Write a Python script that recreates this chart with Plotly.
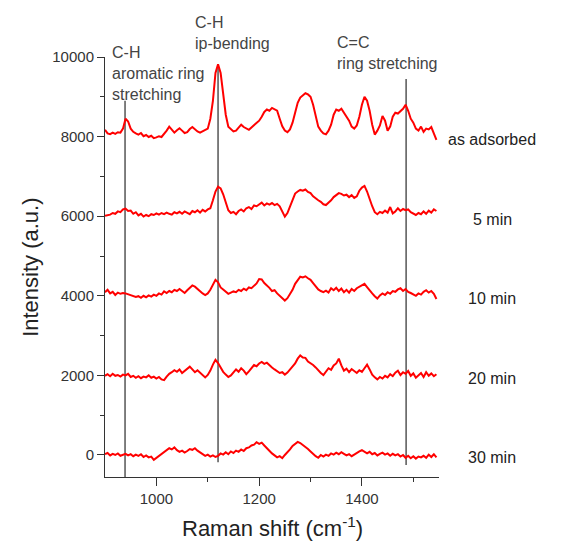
import numpy as np
import plotly.graph_objects as go

# Raman shift sampling grid (cm^-1)
shift = np.arange(900, 1550, 5)

as_adsorbed = [
    8170, 8080, 8060, 8100, 8070, 8110, 8100, 8200, 8450, 8380,
    8200, 8120, 8080, 8050, 8090, 8010, 8040, 7990, 8020, 7960,
    7980, 8010, 7990, 8060, 8150, 8250, 8170, 8100, 8160, 8210,
    8150, 8090, 8110, 8190, 8240, 8180, 8130, 8100, 8140, 8170,
    8200, 8450, 8900, 9600, 9820, 9600, 9050, 8550, 8250, 8180,
    8130, 8150, 8220, 8300, 8240, 8200, 8170, 8230, 8290, 8330,
    8400, 8500, 8620, 8680, 8650, 8720, 8690, 8650, 8450, 8260,
    8150, 8110, 8180, 8350, 8600, 8850, 8980, 9040, 9090, 9060,
    9000, 8800, 8500, 8250, 8150, 8080, 8060, 8150, 8300, 8550,
    8680, 8650, 8700, 8600, 8520, 8400, 8250, 8200, 8280, 8500,
    8800, 9000, 8900, 8650, 8300, 8050, 8150, 8280, 8520, 8400,
    8150, 8250, 8500, 8600, 8580, 8650, 8700, 8800, 8650, 8450,
    8350, 8200, 8150, 8250, 8120, 8200, 8180, 8240, 8100, 7920,
]

min5 = [
    6010, 6030, 6040, 6080, 6060, 6120, 6100, 6170, 6190, 6130,
    6140, 6060, 6100, 6020, 6060, 5990, 6030, 6000, 6050, 6030,
    6070, 6040, 6080, 6050, 6090, 6060, 6040, 6100, 6070, 6110,
    6060, 6120, 6080, 6050, 6130, 6100, 6150, 6090, 6160, 6120,
    6170, 6200, 6400, 6620, 6740, 6700, 6550, 6330, 6150, 6080,
    6110, 6050, 6130, 6170, 6120, 6200, 6230, 6180, 6270, 6250,
    6300, 6340, 6270, 6320, 6290, 6330, 6280, 6310, 6250, 6100,
    5990, 6080, 6250, 6450, 6570, 6620, 6660, 6640, 6670, 6610,
    6580, 6500, 6440, 6400, 6360, 6300, 6280, 6330, 6400, 6480,
    6540, 6580, 6560, 6520, 6540, 6480, 6530, 6460, 6500, 6640,
    6720, 6760, 6620, 6420, 6250, 6100, 6050, 6110, 6080, 6140,
    6090, 6230, 6070, 6120, 6200, 6130, 6180, 6150, 6170, 6100,
    6060, 6030, 6080, 6050, 6120, 6060, 6140, 6090, 6170, 6130,
]

min10 = [
    4090, 4150, 4060, 4100, 4020, 4080, 4050, 4070, 4060, 4040,
    4020, 4000, 3970, 3990, 3950, 4000, 3960, 4010, 3980, 4030,
    4000, 4060, 4030, 4110, 4070, 4120, 4090, 4150, 4120, 4170,
    4130, 4070, 4140, 4200, 4260, 4230, 4170, 4120, 4060, 4020,
    4060, 4150, 4280, 4400, 4340, 4210, 4160, 4110, 4050, 4080,
    4110, 4090, 4150, 4120, 4180, 4140, 4210, 4190, 4260, 4310,
    4420, 4410, 4320, 4270, 4200, 4120, 4140, 4060, 4000, 3960,
    3880, 3940, 4030, 4150, 4300, 4400, 4480, 4460, 4490, 4440,
    4400, 4320, 4250, 4160, 4120, 4090, 4130, 4080, 4190, 4140,
    4200, 4120, 4180, 4090, 4150, 4080, 4170, 4120, 4190, 4230,
    4280, 4300, 4220, 4130, 4060, 3990, 3930, 4010, 4060, 4020,
    4090, 4050, 4120, 4100, 4160, 4190, 4120, 4170, 4100, 4070,
    4040, 4000, 4060, 4030, 4100, 4140, 4080, 4120, 4050, 3920,
]

min20 = [
    1990, 2030, 1980, 2040, 1990, 2010, 1970, 2020, 2000, 2040,
    1960, 1990, 1940, 1980, 1930, 1970, 1950, 2000, 1940, 1970,
    1920, 1960, 1900, 1880, 1970, 2040, 2080, 2130, 2090, 2150,
    2060, 2120, 2180, 2220, 2150, 2080, 2130, 2070, 2020, 1950,
    2010, 2120, 2270, 2390, 2310, 2200, 2090, 2020, 1960, 2000,
    2080, 2150, 2090, 2180, 2120, 2030, 2100, 2190, 2260, 2230,
    2300, 2340, 2290, 2320, 2250, 2200, 2150, 2110, 2060, 2080,
    2020, 2070, 2150, 2230, 2300, 2420, 2500, 2450, 2440, 2350,
    2310, 2260, 2200, 2120, 2060, 2010, 2090, 2180, 2140, 2250,
    2300, 2420, 2250, 2120, 2170, 2080, 2160, 2100, 2060, 2130,
    2090, 2180, 2270, 2150, 2020, 1950, 1900, 1960, 1920, 1990,
    1950, 2030, 1980, 2070, 2120, 2010, 2080, 2040, 2110, 1990,
    2050, 1940, 2000, 2060, 1960, 2080, 1990, 2050, 1980, 2030,
]

min30 = [
    20, 50, -10, 30, 0, 40, -20, 10, 30, -10,
    20, -30, 10, -20, 20, -50, -10, -60, -40, -120,
    -70, -20, 40, 80, 130, 170, 140, 190, 120, 80,
    110, 60, 100, 150, 130, 170, 110, 60, 30, -20,
    10, -40, -10, -50, -20, 40, 10, 70, 20, 90,
    50, 110, 80, 140, 100, 170, 190, 240, 260, 320,
    280, 310, 240, 170, 110, 40, -10, -60, -30, -80,
    0, 60, 140, 230, 270, 330, 300, 250, 220, 150,
    90, 20, -30, -70, 0, -40, 10, -20, 40, 10,
    60, 20, 70, 30, -10, 20, -30, 10, 60, 90,
    120, 80, 40, 80, 20, 50, -10, 30, 60, 10,
    40, -20, 30, -10, 20, -40, 0, -70, -20, -80,
    -30, -90, -40, -60, -20, -70, 10, -50, 20, -60,
]

series = [as_adsorbed, min5, min10, min20, min30]
series_labels = ["as adsorbed", "5 min", "10 min", "20 min", "30 min"]
label_levels = [8000, 6000, 4000, 2000, 0]

# band positions (cm^-1) and the extent of their marker lines (a.u.)
band_pos = [939, 1120, 1486]
band_low = [-700, -180, -250]
band_high = [8900, 9800, 9450]
band_text = ["C-H<br>aromatic ring<br>stretching", "C-H<br>ip-bending", "C=C<br>ring stretching"]
band_text_x = [0.015, 0.264, 0.689]      # paper
band_text_y = [1.035, 1.107, 1.06]       # paper

x_ticks = [1000, 1200, 1400]
y_ticks = [0, 2000, 4000, 6000, 8000, 10000]
y_tick_text = ["0", "2000", "4000", "6000", "8000", "10000"]

Y_MIN, Y_MAX = -553, 10000
FONT = "Liberation Sans, Arial"

fig = go.Figure()
for s in series:
    fig.add_trace(go.Scatter(x=shift, y=s, mode="lines",
                             line=dict(color="#ff0000", width=2),
                             showlegend=False, hoverinfo="skip"))

for p, lo, hi in zip(band_pos, band_low, band_high):
    fig.add_shape(type="line", xref="x", yref="y", x0=p, x1=p, y0=lo, y1=hi,
                  line=dict(color="#555555", width=1.5), layer="below")

for t, tx, ty in zip(band_text, band_text_x, band_text_y):
    fig.add_annotation(x=tx, y=ty, xref="paper", yref="paper", text=t, showarrow=False,
                       xanchor="left", yanchor="top", align="left",
                       font=dict(family=FONT, size=16, color="#444444"))

for lab, lev in zip(series_labels, label_levels):
    fig.add_annotation(x=1.16, y=(lev - Y_MIN) / (Y_MAX - Y_MIN), xref="paper", yref="paper",
                       text=lab, showarrow=False, yshift=-3,
                       xanchor="center", yanchor="middle",
                       font=dict(family=FONT, size=16, color="#222222"))

fig.add_annotation(x=-0.225, y=0.5, xref="paper", yref="paper", text="Intensity (a.u.)",
                   textangle=-90, showarrow=False, xanchor="center", yanchor="middle",
                   font=dict(family=FONT, size=22, color="#222222"))
fig.add_annotation(x=0.5, y=-0.082, xref="paper", yref="paper",
                   text="Raman shift (cm<sup>-1</sup>)", showarrow=False,
                   xanchor="center", yanchor="top",
                   font=dict(family=FONT, size=22, color="#222222"))

fig.update_layout(
    width=560, height=535,
    margin=dict(l=97, r=129, t=49, b=66),
    paper_bgcolor="white", plot_bgcolor="white",
    font=dict(family=FONT, size=15, color="#333333"),
    xaxis=dict(range=[900, 1550], tickvals=x_ticks, ticks="outside", ticklen=8,
               tickcolor="#333333", showline=True, linecolor="#333333", linewidth=1,
               showgrid=False, zeroline=False, mirror=False,
               minor=dict(tickvals=[1100, 1300, 1500], ticks="outside", ticklen=4,
                          tickcolor="#333333", showgrid=False),
               tickfont=dict(family=FONT, size=15, color="#333333")),
    yaxis=dict(range=[Y_MIN, Y_MAX], tickvals=y_ticks, ticktext=y_tick_text,
               ticks="outside", ticklen=7,
               tickcolor="#333333", showline=True, linecolor="#333333", linewidth=1,
               showgrid=False, zeroline=False, mirror=False,
               minor=dict(tickvals=[1000, 3000, 5000, 7000, 9000], ticks="outside",
                          ticklen=4, tickcolor="#333333", showgrid=False),
               tickfont=dict(family=FONT, size=15, color="#333333")),
)

fig.write_html("out.html")
